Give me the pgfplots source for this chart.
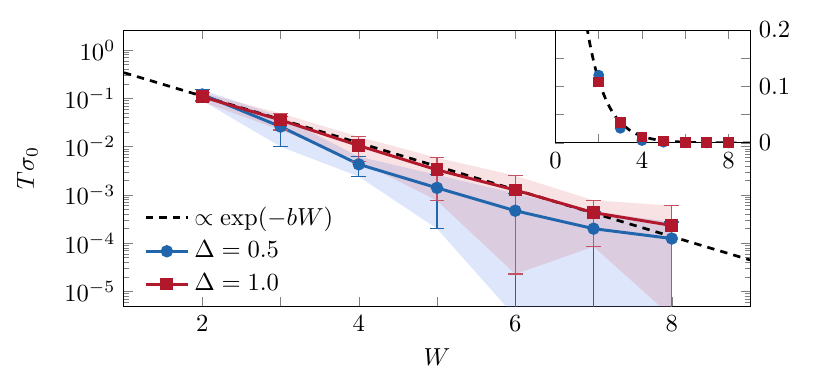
\documentclass[border=0pt]{standalone}
\usepackage{pgfplots}
\pgfplotsset{compat=1.18}
\definecolor{cblue}{RGB}{33,102,172}
\definecolor{cred}{RGB}{178,24,43}
\definecolor{bandblue}{RGB}{100,140,230}
\definecolor{bandred}{RGB}{210,60,70}

% W, mean, error minus/plus
\pgfplotstableread{
W y em ep
2 0.12 0.03 0.03
3 0.026 0.016 0.016
4 0.0043 0.0019 0.0019
5 0.0014 0.0012 0.0012
6 0.00047 0.000467 0.0006
7 0.0002 0.000197 0.00025
8 0.000125 0.000122 0.00015
}\dataA
\pgfplotstableread{
W y em ep
2 0.108 0.023 0.023
3 0.0356 0.0136 0.0136
4 0.0105 0.0055 0.0055
5 0.0033 0.00254 0.0026
6 0.00126 0.001237 0.00124
7 0.00043 0.000345 0.000345
8 0.000233 0.00023 0.000367
}\dataB
% bands: upper edge left to right, lower edge right to left
\pgfplotstableread{
W v
2 0.15
3 0.042
4 0.0062
5 0.0026
6 0.00107
7 0.00045
8 0.000275
8 3e-6
7 3e-6
6 3e-6
5 0.0002
4 0.0024
3 0.010
2 0.09
}\bandA
\pgfplotstableread{
W v
2 0.131
3 0.049
4 0.016
5 0.0059
6 0.0025
7 0.000775
8 0.0006
8 3e-6
7 8.5e-5
6 2.3e-5
5 0.00076
4 0.005
3 0.022
2 0.085
}\bandB

\pgfplotsset{every axis/.append style={
  scale only axis, tick align=inside,
  major tick length=3.6pt, minor tick length=2pt}}

\begin{document}
\begin{tikzpicture}
\begin{axis}[name=main, at={(0,0)}, anchor=south west,
  width=254.5pt, height=112.2pt,
  xmin=1, xmax=9, ymode=log, ymin=5e-6, ymax=2.6,
  xtick={2,...,8}, xticklabels={2,,4,,6,,8},
  xlabel={$W$}, ylabel={$T\sigma_0$},
  ylabel style={yshift=4pt},
  legend cell align=left,
  legend style={at={(0.02,0.005)}, anchor=south west, draw=none, fill=none,
    row sep=1pt}]
% shaded bands
\addplot[fill=bandblue, fill opacity=0.22, draw=none, forget plot] table[x=W,y=v]{\bandA};
\addplot[fill=bandred, fill opacity=0.15, draw=none, forget plot] table[x=W,y=v]{\bandB};
% fit
\addplot[black, line width=1.1pt, dash pattern=on 3pt off 2.5pt] coordinates {(1,0.34) (9,4.5e-5)};
\addlegendentry{$\propto \exp(-bW)$}
% data
\addplot[cblue, line width=1.2pt, mark=*, mark size=1.9pt,
  error bars/.cd, y dir=both, y explicit,
  error bar style={line width=0.5pt, solid},
  error mark options={rotate=90, mark size=3pt, line width=0.5pt}]
  table[x=W, y=y, y error plus=ep, y error minus=em]{\dataA};
\addlegendentry{$\Delta = 0.5$}
\addplot[cred, line width=1.2pt, mark=square*, mark size=2pt,
  error bars/.cd, y dir=both, y explicit,
  error bar style={line width=0.5pt, solid, cred!75},
  error mark options={rotate=90, mark size=3pt, line width=0.5pt, cred!75}]
  table[x=W, y=y, y error plus=ep, y error minus=em]{\dataB};
\addlegendentry{$\Delta = 1.0$}
\end{axis}

\begin{axis}[at={(main.north east)}, anchor=north east,
  width=79.1pt, height=45.9pt,
  xmin=0, xmax=9, ymin=0, ymax=0.2,
  xtick={0,2,4,6,8}, xticklabels={0,,4,,8},
  ytick={0,0.05,0.1,0.15,0.2}, yticklabels={0,,0.1,,0.2},
  yticklabel pos=right,
  axis background/.style={fill=white}]
\addplot[black, line width=1.1pt, dash pattern=on 3pt off 2.5pt, smooth] coordinates {
  (1.45,0.206) (1.6,0.174) (1.8,0.139) (2,0.111) (2.25,0.0843) (2.5,0.0637)
  (2.75,0.0482) (3,0.0364) (3.5,0.0208) (4,0.0119) (4.5,0.00683) (5,0.0039)
  (6,0.00128) (7,0.0004) (8,0.00013) (9,0.00004)};
\addplot[cblue, only marks, mark=*, mark size=2pt] table[x=W,y=y]{\dataA};
\addplot[cred, only marks, mark=square*, mark size=2pt] table[x=W,y=y]{\dataB};
\end{axis}
\path[use as bounding box] (-50.4pt,-32.9pt) rectangle (287.8pt,124.4pt);
\end{tikzpicture}
\end{document}
